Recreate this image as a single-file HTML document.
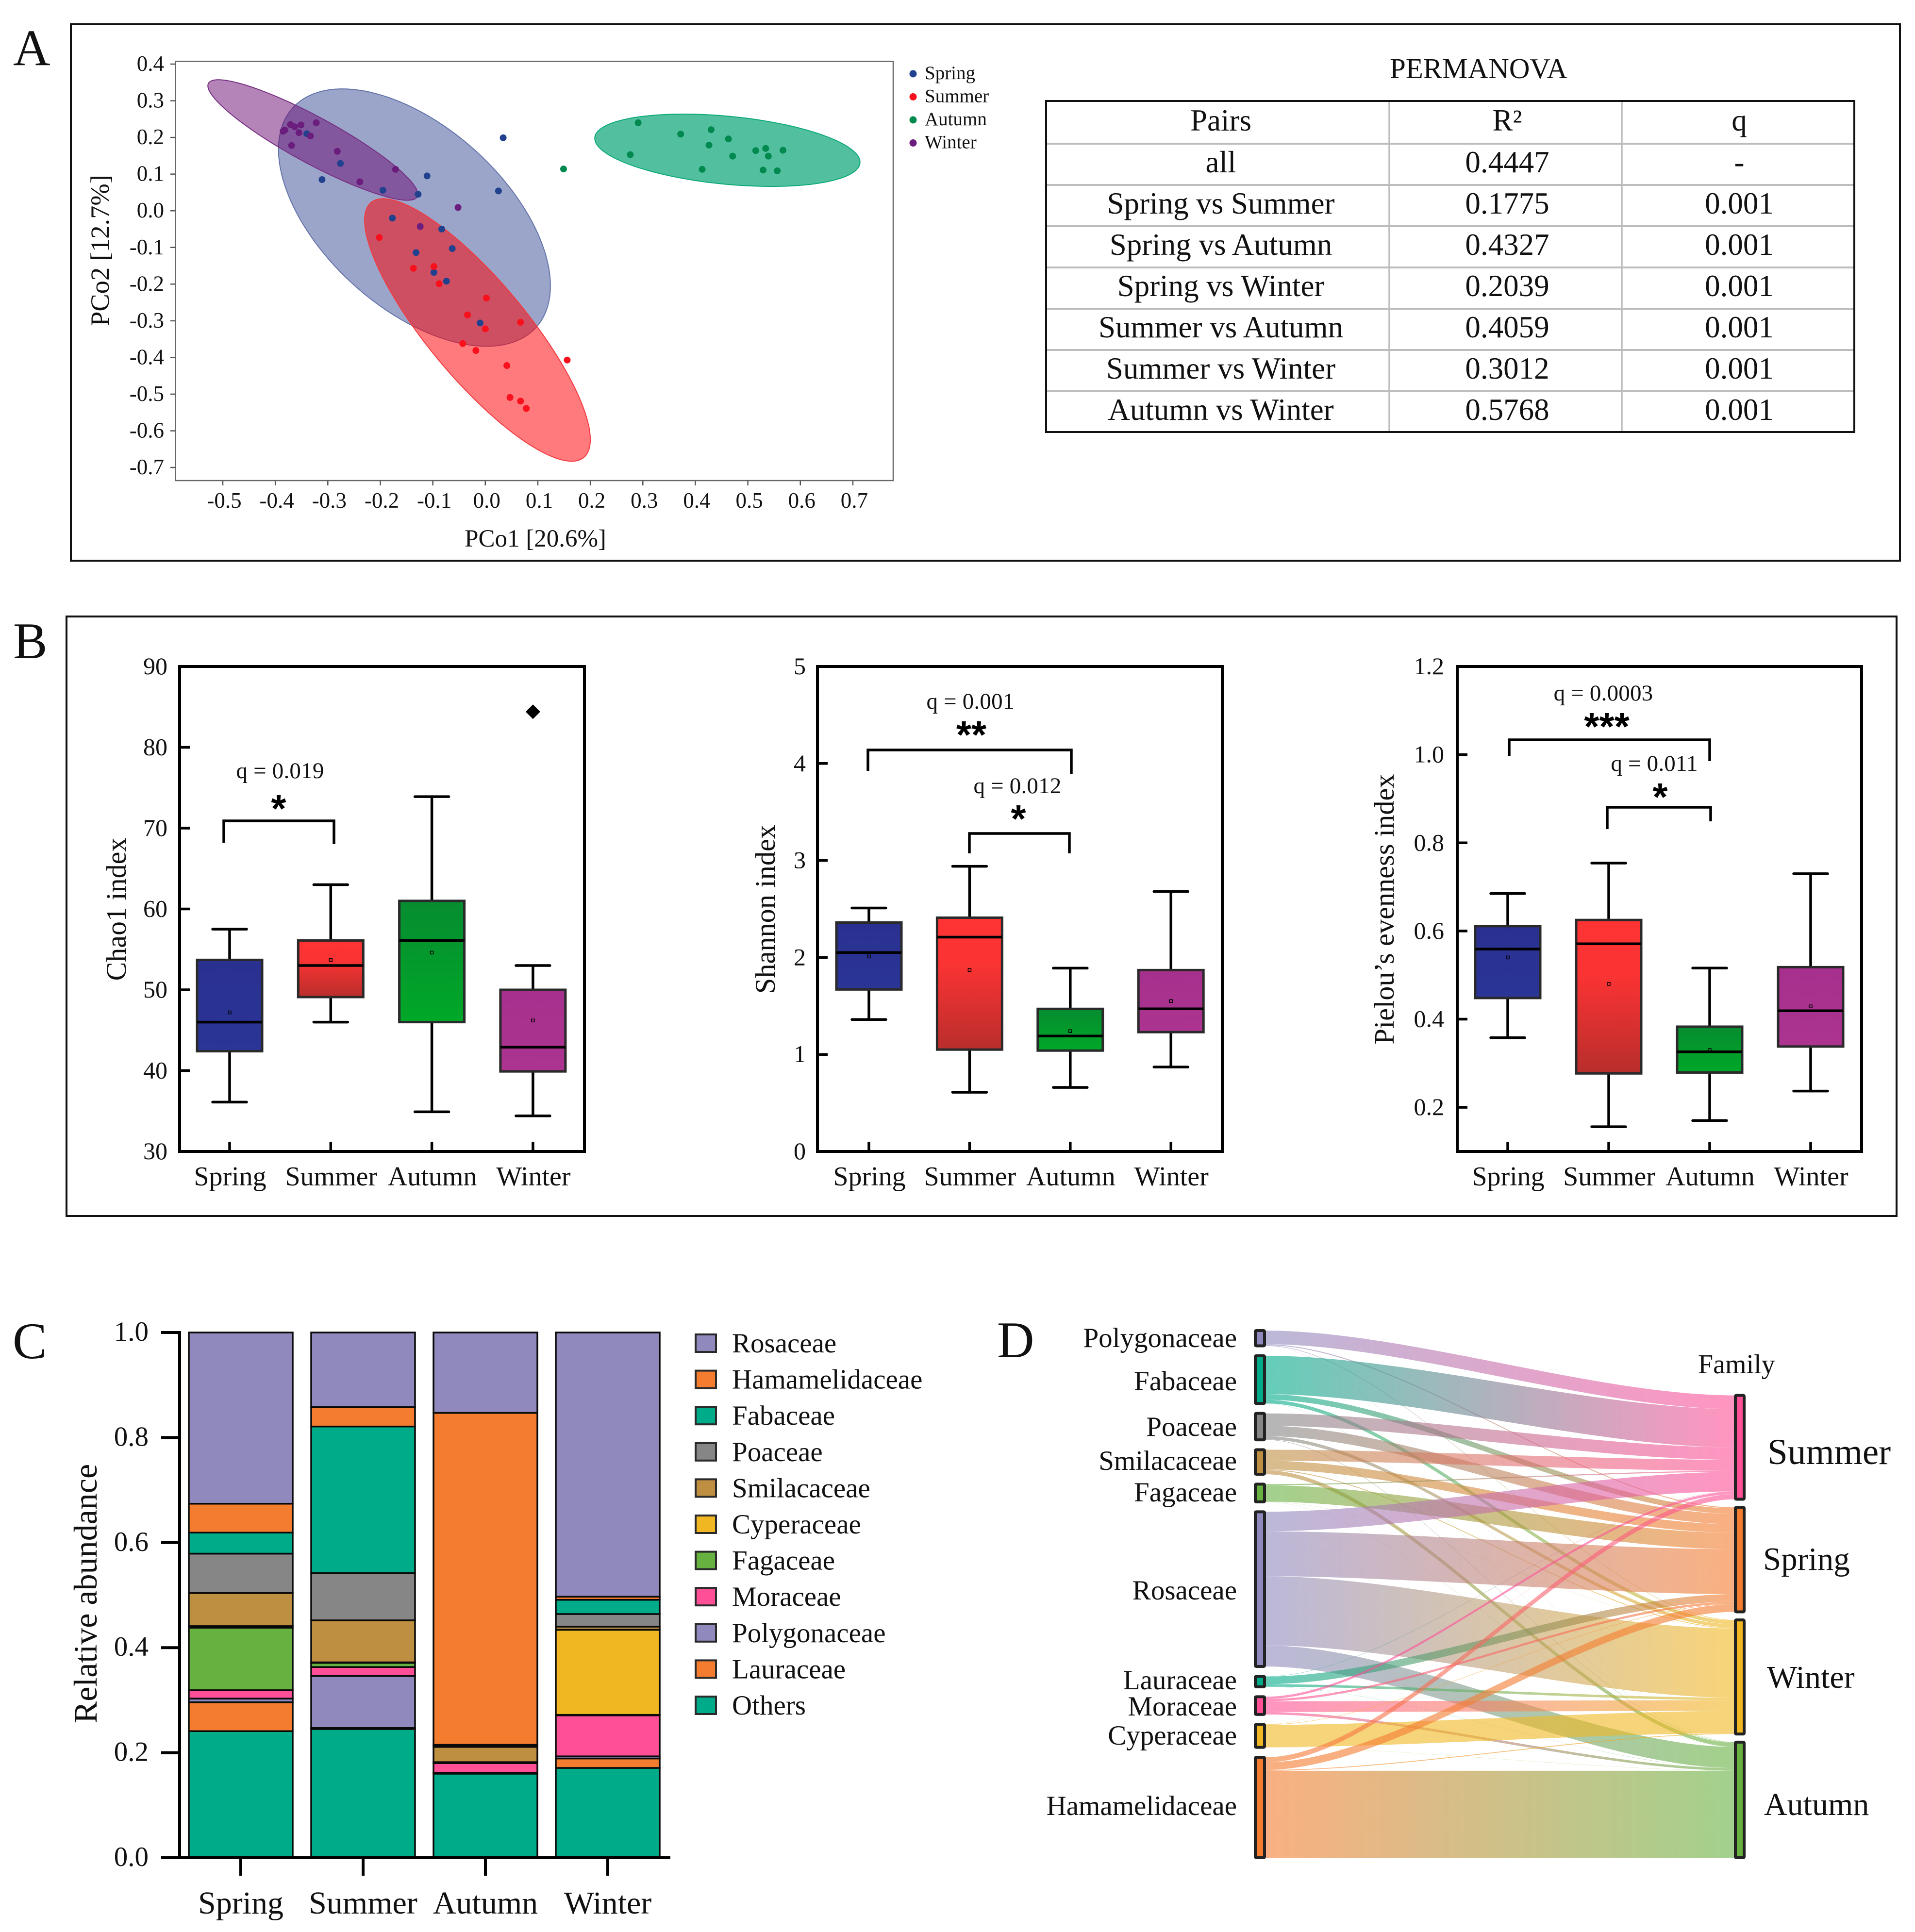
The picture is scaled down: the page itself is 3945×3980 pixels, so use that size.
<!DOCTYPE html>
<html lang="en">
<head>
<meta charset="utf-8">
<title>Seasonal community composition figure</title>
<style>
html,body{margin:0;padding:0;background:#fff;}
svg{display:block;}
text{font-family:"Liberation Serif","DejaVu Serif",serif;fill:#111;}
.star{font-family:"Liberation Sans","DejaVu Sans",sans-serif;font-weight:bold;fill:#000;}
</style>
</head>
<body>
<svg id="fig" xmlns="http://www.w3.org/2000/svg" width="3945" height="3980" viewBox="0 0 3945 3980">
<defs id="defs">
<linearGradient id="gSpring" x1="0" y1="0" x2="0" y2="1"><stop offset="0" stop-color="#2a3090"/><stop offset="1" stop-color="#2a3596"/></linearGradient>
<linearGradient id="gSummer" x1="0" y1="0" x2="0" y2="1"><stop offset="0" stop-color="#ff3333"/><stop offset="0.35" stop-color="#fb3333"/><stop offset="1" stop-color="#b82e2c"/></linearGradient>
<linearGradient id="gAutumn" x1="0" y1="0" x2="0" y2="1"><stop offset="0" stop-color="#068c30"/><stop offset="1" stop-color="#00a828"/></linearGradient>
<linearGradient id="gWinter" x1="0" y1="0" x2="0" y2="1"><stop offset="0" stop-color="#a6308d"/><stop offset="1" stop-color="#ac3490"/></linearGradient>
</defs>

<rect x="0" y="0" width="3945" height="3980" fill="#fff"/>

<!-- Panel letters -->
<text x="27" y="134" font-size="106">A</text>
<text x="27" y="1356" font-size="106">B</text>
<text x="26" y="2798" font-size="106">C</text>
<text x="2054" y="2796" font-size="106">D</text>

<!-- Panel frames -->
<rect x="146" y="50" width="3768" height="1105" fill="none" stroke="#111" stroke-width="4"/>
<rect x="137" y="1270" width="3770" height="1235" fill="none" stroke="#111" stroke-width="4"/>

<g id="panelA"></g>

<text x="1103" y="1126" font-size="51" text-anchor="middle">PCo1 [20.6%]</text>
<text transform="translate(224,516) rotate(-90)" font-size="54.5" text-anchor="middle">PCo2 [12.7%]</text>

<g id="tableA">
<text x="3046" y="161" font-size="59" text-anchor="middle">PERMANOVA</text>
</g>

<g id="panelB"></g>

<text transform="translate(259,1873) rotate(-90)" font-size="58" text-anchor="middle">Chao1 index</text>
<text transform="translate(1596,1873) rotate(-90)" font-size="58.3" text-anchor="middle">Shannon index</text>
<text transform="translate(2871,1873) rotate(-90)" font-size="58.3" text-anchor="middle">Pielou’s evenness index</text>

<!-- Significance annotations -->
<g fill="none" stroke="#000" stroke-width="5.5">
<path d="M461 1736V1691H688V1739"/>
<path d="M1788 1588V1545H2207V1595"/>
<path d="M1997 1758V1717H2203V1758"/>
<path d="M3109 1557V1524H3522V1568"/>
<path d="M3311 1708V1663H3524V1692"/>
</g>
<text x="577" y="1603" font-size="47" text-anchor="middle" letter-spacing="0.2">q = 0.019</text>
<text class="star" x="574" y="1693" font-size="80" text-anchor="middle">*</text>
<text x="1999" y="1460" font-size="47" text-anchor="middle" letter-spacing="0.2">q = 0.001</text>
<text class="star" x="2001" y="1541" font-size="80" text-anchor="middle">**</text>
<text x="2096" y="1634" font-size="47" text-anchor="middle" letter-spacing="0.2">q = 0.012</text>
<text class="star" x="2098" y="1714" font-size="80" text-anchor="middle">*</text>
<text x="3303" y="1443" font-size="47" text-anchor="middle" letter-spacing="0.2">q = 0.0003</text>
<text class="star" x="3310" y="1524" font-size="80" text-anchor="middle">***</text>
<text x="3408" y="1588" font-size="47" text-anchor="middle" letter-spacing="0.2">q = 0.011</text>
<text class="star" x="3420" y="1669" font-size="80" text-anchor="middle">*</text>

<g id="panelC"></g>
<text transform="translate(199,3283) rotate(-90)" font-size="68" text-anchor="middle">Relative abundance</text>

<g id="panelD"></g>

<!-- Sankey labels -->
<g font-size="57" text-anchor="end">
<text x="2548" y="2775">Polygonaceae</text>
<text x="2548" y="2864">Fabaceae</text>
<text x="2548" y="2958">Poaceae</text>
<text x="2548" y="3028">Smilacaceae</text>
<text x="2548" y="3093">Fagaceae</text>
<text x="2548" y="3295">Rosaceae</text>
<text x="2548" y="3480">Lauraceae</text>
<text x="2548" y="3534">Moraceae</text>
<text x="2548" y="3594">Cyperaceae</text>
<text x="2548" y="3739">Hamamelidaceae</text>
</g>
<text x="3498" y="2829" font-size="56">Family</text>
<text x="3641" y="3016" font-size="75">Summer</text>
<text x="3632" y="3234" font-size="67">Spring</text>
<text x="3640" y="3477" font-size="66">Winter</text>
<text x="3634" y="3739" font-size="66">Autumn</text>
</svg>

<script>
// ---------- shared ----------
const seasons = ['Spring', 'Summer', 'Autumn', 'Winter'];

// ---------- panel A data ----------
const pcoXTicks = [-0.5, -0.4, -0.3, -0.2, -0.1, 0.0, 0.1, 0.2, 0.3, 0.4, 0.5, 0.6, 0.7];
const pcoYTicks = [0.4, 0.3, 0.2, 0.1, 0.0, -0.1, -0.2, -0.3, -0.4, -0.5, -0.6, -0.7];
const springPc1 = [0.034, -0.111, 0.025, -0.276, -0.311, -0.195, -0.128, -0.340, -0.177, -0.083, -0.063, -0.132, -0.098, -0.074, -0.010];
const springPc2 = [0.199, 0.095, 0.054, 0.129, 0.085, 0.056, 0.045, 0.210, -0.020, -0.050, -0.103, -0.114, -0.168, -0.192, -0.306];
const summerPc1 = [-0.202, -0.137, -0.098, -0.088, 0.002, -0.034, 0.067, 0.000, -0.043, -0.018, 0.041, 0.156, 0.047, 0.067, 0.078];
const summerPc2 = [-0.073, -0.157, -0.152, -0.199, -0.238, -0.284, -0.304, -0.322, -0.362, -0.381, -0.422, -0.407, -0.509, -0.519, -0.539];
const autumnPc1 = [0.291, 0.372, 0.430, 0.463, 0.426, 0.276, 0.471, 0.515, 0.534, 0.539, 0.567, 0.413, 0.529, 0.556, 0.149];
const autumnPc2 = [0.240, 0.209, 0.221, 0.196, 0.179, 0.153, 0.149, 0.164, 0.170, 0.149, 0.165, 0.113, 0.111, 0.109, 0.114];
const winterPc1 = [-0.322, -0.351, -0.363, -0.371, -0.355, -0.333, -0.382, -0.385, -0.369, -0.282, -0.171, -0.239, -0.052, -0.124];
const winterPc2 = [0.240, 0.234, 0.229, 0.235, 0.213, 0.204, 0.220, 0.217, 0.178, 0.162, 0.113, 0.079, 0.009, -0.043];
// confidence ellipses, in data units: Spring, Summer, Autumn, Winter
const ellipseCenterX = [-0.135, -0.015, 0.461, -0.3285];
const ellipseCenterY = [-0.0186, -0.325, 0.165, 0.193];
const ellipseExtentX = [0.259, 0.215, 0.2526, 0.2];
const ellipseExtentY = [0.351, 0.358, 0.0986, 0.1643];
const ellipseCorrelation = [-0.53, -0.835, -0.33, -0.9];

// ---------- table data ----------
const tablePairs = ['all', 'Spring vs Summer', 'Spring vs Autumn', 'Spring vs Winter', 'Summer vs Autumn', 'Summer vs Winter', 'Autumn vs Winter'];
const tableR2 = ['0.4447', '0.1775', '0.4327', '0.2039', '0.4059', '0.3012', '0.5768'];
const tableQ = ['-', '0.001', '0.001', '0.001', '0.001', '0.001', '0.001'];

// ---------- panel B data ----------
const chaoTicks = [30, 40, 50, 60, 70, 80, 90];
const chaoLow = [36.1, 46, 34.9, 34.4];
const chaoQ1 = [42.4, 49.1, 46, 39.9];
const chaoMedian = [46, 53, 56.1, 42.9];
const chaoQ3 = [53.7, 56.1, 61, 50];
const chaoHigh = [57.5, 63, 73.9, 53];
const chaoMean = [47.2, 53.7, 54.6, 46.2];
const chaoOutlier = [null, null, null, 84.4];

const shannonTicks = [0, 1, 2, 3, 4, 5];
const shannonLow = [1.36, 0.61, 0.66, 0.87];
const shannonQ1 = [1.67, 1.05, 1.04, 1.23];
const shannonMedian = [2.05, 2.21, 1.19, 1.47];
const shannonQ3 = [2.36, 2.41, 1.47, 1.87];
const shannonHigh = [2.51, 2.94, 1.89, 2.68];
const shannonMean = [2.01, 1.87, 1.24, 1.55];

const pielouTicks = ['0.2', '0.4', '0.6', '0.8', '1.0', '1.2'];
const pielouLow = [0.358, 0.156, 0.17, 0.237];
const pielouQ1 = [0.448, 0.277, 0.279, 0.338];
const pielouMedian = [0.559, 0.571, 0.326, 0.419];
const pielouQ3 = [0.611, 0.625, 0.383, 0.518];
const pielouHigh = [0.685, 0.754, 0.516, 0.73];
const pielouMean = [0.54, 0.48, 0.33, 0.429];
const outlierNone = [null, null, null, null];

// ---------- panel C / D data ----------
const families = ['Rosaceae', 'Hamamelidaceae', 'Fabaceae', 'Poaceae', 'Smilacaceae', 'Cyperaceae', 'Fagaceae', 'Moraceae', 'Polygonaceae', 'Lauraceae', 'Others'];
const familyColors = ['#9089bd', '#f47c2f', '#00ab8a', '#868686', '#bf8f41', '#f1b722', '#67b141', '#fe4f97', '#9089bd', '#f47c2f', '#00ab8a'];
const springShare = [0.326, 0.055, 0.040, 0.075, 0.063, 0.003, 0.119, 0.016, 0.007, 0.055, 0.241];
const summerShare = [0.142, 0.037, 0.279, 0.090, 0.080, 0.001, 0.008, 0.017, 0.099, 0.002, 0.245];
const autumnShare = [0.153, 0.632, 0.001, 0.003, 0.029, 0.001, 0.001, 0.018, 0.001, 0.001, 0.160];
const winterShare = [0.503, 0.006, 0.027, 0.024, 0.006, 0.162, 0.001, 0.078, 0.004, 0.018, 0.171];
const abundanceTicks = ['0.0', '0.2', '0.4', '0.6', '0.8', '1.0'];
const sankeyFamilies = ['Polygonaceae', 'Fabaceae', 'Poaceae', 'Smilacaceae', 'Fagaceae', 'Rosaceae', 'Lauraceae', 'Moraceae', 'Cyperaceae', 'Hamamelidaceae'];
const sankeySources = ['#9089bd', '#00ab8a', '#868686', '#bf8f41', '#67b141', '#9089bd', '#00ab8a', '#fe4f97', '#f1b722', '#f47c2f'];
const sankeySeasons = ['Summer', 'Spring', 'Winter', 'Autumn'];
const sankeySeasonColors = ['#fe4f97', '#f47c2f', '#f1b722', '#67b141'];

// ---------- helpers ----------
const NS = 'http://www.w3.org/2000/svg';
function mk(tag, parent, attrs) {
  const n = document.createElementNS(NS, tag);
  for (const k in attrs) n.setAttribute(k, attrs[k]);
  parent.appendChild(n);
  return n;
}
function txt(parent, x, y, s, size, anchor) {
  const n = mk('text', parent, {x: x, y: y, 'font-size': size, 'text-anchor': anchor});
  n.textContent = s;
  return n;
}
const slug = s => String(s).toLowerCase().replace(/[^a-z0-9]+/g, '-');

// ---------- panel A ----------
(function () {
  const g = document.getElementById('panelA');
  const px = v => 459 + (v + 0.5) * 1081.6;
  const py = v => 132 + (0.4 - v) * 755.5;
  const frame = mk('rect', g, {x: 361.5, y: 126.5, width: 1478.5, height: 863.5, fill: 'none', stroke: '#666', 'stroke-width': 2.5});
  
  
  pcoXTicks.forEach(v => {
    const t = mk('line', g, {x1: px(v), x2: px(v), y1: 990, y2: 1000, stroke: '#555', 'stroke-width': 2.5});
    
    
    const l = txt(g, px(v) + 3, 1046, v.toFixed(1), 45, 'middle');
    
    
  });
  pcoYTicks.forEach(v => {
    const t = mk('line', g, {x1: 351, x2: 361.5, y1: py(v), y2: py(v), stroke: '#555', 'stroke-width': 2.5});
    
    
    const l = txt(g, 338, py(v) + 14, v.toFixed(1), 45, 'end');
    
    
  });
  const fills = ['rgba(53,75,147,0.5)', 'rgba(255,0,3,0.52)', 'rgba(8,165,117,0.7)', 'rgba(105,9,113,0.5)'];
  const strokes = ['#6473aa', '#f23a40', '#0aa878', '#773083'];
  seasons.forEach((s, i) => {
    let d = '';
    const r = ellipseCorrelation[i];
    for (let k = 0; k <= 120; k++) {
      const t = k / 120 * 2 * Math.PI;
      const X = ellipseCenterX[i] + ellipseExtentX[i] * Math.cos(t);
      const Y = ellipseCenterY[i] + ellipseExtentY[i] * (r * Math.cos(t) + Math.sqrt(1 - r * r) * Math.sin(t));
      d += (k ? 'L' : 'M') + px(X).toFixed(1) + ' ' + py(Y).toFixed(1);
    }
    const e = mk('path', g, {d: d + 'Z', fill: fills[i], stroke: strokes[i], 'stroke-width': 2});
    
    
  });
  const xs = [springPc1, summerPc1, autumnPc1, winterPc1];
  const ys = [springPc2, summerPc2, autumnPc2, winterPc2];
  const dots = ['#21418f', '#f8101c', '#00894f', '#6a1d7d'];
  seasons.forEach((s, i) => {
    xs[i].forEach((x, k) => {
      const c = mk('circle', g, {cx: px(x), cy: py(ys[i][k]), r: 7, fill: dots[i]});
      
      
    });
  });
  seasons.forEach((s, i) => {
    const ly = 152 + i * 47.5;
    const c = mk('circle', g, {cx: 1881, cy: ly, r: 7.5, fill: dots[i]});
    
    
    const l = txt(g, 1905, ly + 11, s, 39, 'start');
    
    
  });
})();

// ---------- table ----------
(function () {
  const g = document.getElementById('tableA');
  const L = 2155, R = 3820, T = 208, B = 890;
  for (let i = 0; i < 7; i++) {
    const y = 296 + 85 * i;
    const n = mk('line', g, {x1: L, x2: R, y1: y, y2: y, stroke: '#bdbdbd', 'stroke-width': 4});
    
    
  }
  [2862, 3341].forEach(x => {
    const n = mk('line', g, {x1: x, x2: x, y1: T, y2: B, stroke: '#bdbdbd', 'stroke-width': 3.5});
    
    
  });
  const box = mk('rect', g, {x: L, y: T, width: R - L, height: B - T, fill: 'none', stroke: '#111', 'stroke-width': 4});
  
  
  const h1 = txt(g, 2515, 269, 'Pairs', 63, 'middle');
  
  
  const h2 = txt(g, 3105, 269, 'R²', 63, 'middle');
  
  
  const h3 = txt(g, 3583, 269, 'q', 63, 'middle');
  
  
  tablePairs.forEach((p, i) => {
    const y = 355 + 85 * i;
    const a = txt(g, 2515, y, p, 63, 'middle');
    
    
    const b = txt(g, 3105, y, tableR2[i], 63, 'middle');
    
    
    const c = txt(g, 3583, y, tableQ[i], 63, 'middle');
    
    
  });
})();

// ---------- panel B ----------
function boxChart(name, L, R, labelX, x0, dx, yMin, yMax, ticks, low, q1, med, q3, high, mean, outlier) {
  const g = document.getElementById('panelB');
  const T = 1373, B = 2372;
  const y = v => B - (v - yMin) / (yMax - yMin) * (B - T);
  const x = i => x0 + i * dx;
  const fills = ['url(#gSpring)', 'url(#gSummer)', 'url(#gAutumn)', 'url(#gWinter)'];
  seasons.forEach((s, i) => {
    const whisker = mk('path', g, {
      d: 'M' + x(i) + ' ' + y(high[i]) + 'V' + y(low[i]) +
         'M' + (x(i) - 35) + ' ' + y(high[i]) + 'H' + (x(i) + 35) +
         'M' + (x(i) - 35) + ' ' + y(low[i]) + 'H' + (x(i) + 35),
      fill: 'none', stroke: '#000', 'stroke-width': 5.5, 'stroke-linecap': 'round'});
    
    
    const box = mk('rect', g, {x: x(i) - 67, y: y(q3[i]), width: 134, height: y(q1[i]) - y(q3[i]), fill: fills[i], stroke: '#2a2a2a', 'stroke-width': 5});
    
    
    const m = mk('line', g, {x1: x(i) - 67, x2: x(i) + 67, y1: y(med[i]), y2: y(med[i]), stroke: '#000', 'stroke-width': 5.5});
    
    
    const a = mk('rect', g, {x: x(i) - 3, y: y(mean[i]) - 3, width: 6, height: 6, fill: 'none', stroke: '#000', 'stroke-width': 1.5});
    
    
    if (outlier[i] !== null) {
      const cy = y(outlier[i]);
      const o = mk('path', g, {d: 'M' + x(i) + ' ' + (cy - 15) + 'l15 15l-15 15l-15 -15Z', fill: '#000'});
      
      
    }
    const tk = mk('line', g, {x1: x(i), x2: x(i), y1: B, y2: B - 20, stroke: '#000', 'stroke-width': 5.5});
    
    
    const l = txt(g, x(i) + 1, 2442, s, 56, 'middle');
    
    
  });
  ticks.forEach(v => {
    const tk = mk('line', g, {x1: L, x2: L + 21, y1: y(+v), y2: y(+v), stroke: '#000', 'stroke-width': 5.5});
    
    
    const l = txt(g, labelX, y(+v) + 16, v, 50, 'end');
    
    
  });
  const f = mk('rect', g, {x: L, y: T, width: R - L, height: B - T, fill: 'none', stroke: '#000', 'stroke-width': 6});
  
  
}
boxChart('chao1', 370, 1204, 345, 473, 208.3, 30, 90, chaoTicks, chaoLow, chaoQ1, chaoMedian, chaoQ3, chaoHigh, chaoMean, chaoOutlier);
boxChart('shannon', 1684, 2518, 1660, 1790, 207.4, 0, 5, shannonTicks, shannonLow, shannonQ1, shannonMedian, shannonQ3, shannonHigh, shannonMean, outlierNone);
boxChart('pielou', 3002, 3835, 2975, 3106, 208, 0.1, 1.2, pielouTicks, pielouLow, pielouQ1, pielouMedian, pielouQ3, pielouHigh, pielouMean, outlierNone);

// ---------- panel C ----------
(function () {
  const g = document.getElementById('panelC');
  const B = 3827, H = 1082;
  const y = v => B - v * H;
  const x = i => 496 + i * 252;
  const shares = [springShare, summerShare, autumnShare, winterShare];
  seasons.forEach((s, i) => {
    let cum = 0;
    for (let k = families.length - 1; k >= 0; k--) {
      const v = shares[i][k];
      const r = mk('rect', g, {x: x(i) - 107, y: y(cum + v), width: 214, height: v * H, fill: familyColors[k], stroke: '#0a0a0a', 'stroke-width': 3.5});
      
      
      cum += v;
    }
    const tk = mk('line', g, {x1: x(i), x2: x(i), y1: B, y2: B + 37, stroke: '#000', 'stroke-width': 6});
    
    
    const l = txt(g, x(i), 3942, s, 66, 'middle');
    
    
  });
  const ya = mk('line', g, {x1: 370, x2: 370, y1: y(1) - 3, y2: B + 3, stroke: '#000', 'stroke-width': 6});
  
  
  const xa = mk('line', g, {x1: 332, x2: 1381, y1: B, y2: B, stroke: '#000', 'stroke-width': 6});
  
  
  abundanceTicks.forEach(v => {
    const tk = mk('line', g, {x1: 332, x2: 370, y1: y(+v), y2: y(+v), stroke: '#000', 'stroke-width': 6});
    
    
    const l = txt(g, 306, y(+v) + 17, v, 57, 'end');
    
    
  });
  families.forEach((f, k) => {
    const cy = 2767 + k * 74.6;
    const r = mk('rect', g, {x: 1433, y: cy - 18, width: 42, height: 36, fill: familyColors[k], stroke: '#2a2a2a', 'stroke-width': 4});
    
    
    const l = txt(g, 1508, cy + 19, f, 57, 'start');
    
    
  });
})();

// ---------- panel D ----------
(function () {
  const g = document.getElementById('panelD');
  const defs = document.getElementById('defs');
  const seasonShare = {Spring: springShare, Summer: summerShare, Autumn: autumnShare, Winter: winterShare};
  const scale = 283.5;
  const X0 = 2605, X1 = 3575;
  const CX0 = X0 + (X1 - X0) * 0.3, CX1 = X1 - (X1 - X0) * 0.3;
  const value = (f, s) => seasonShare[s][families.indexOf(f)];
  const srcTotal = sankeyFamilies.map(f => sankeySeasons.reduce((a, s) => a + value(f, s), 0));
  const tgtTotal = sankeySeasons.map(s => sankeyFamilies.reduce((a, f) => a + value(f, s), 0));
  const bottom = 3827;
  const srcGap = 20.4;
  const tgtGap = 16.7;
  const srcTop = [];
  let c = bottom - srcTotal.reduce((a, b) => a + b, 0) * scale - srcGap * (srcTotal.length - 1);
  srcTotal.forEach((t, i) => { srcTop.push(c); c += t * scale + srcGap; });
  const tgtTop = [];
  c = bottom - tgtTotal.reduce((a, b) => a + b, 0) * scale - tgtGap * (tgtTotal.length - 1);
  tgtTotal.forEach((t, i) => { tgtTop.push(c); c += t * scale + tgtGap; });
  const tCur = tgtTop.slice();
  sankeyFamilies.forEach((f, i) => {
    let sCur = srcTop[i];
    sankeySeasons.forEach((s, j) => {
      const h = value(f, s) * scale;
      const id = 'flow' + i + '_' + j;
      const grad = mk('linearGradient', defs, {id: id, gradientUnits: 'userSpaceOnUse', x1: X0, y1: 0, x2: X1, y2: 0});
      mk('stop', grad, {offset: '0.02', 'stop-color': sankeySources[i]});
      mk('stop', grad, {offset: '0.98', 'stop-color': sankeySeasonColors[j]});
      const y0 = sCur, y1 = tCur[j];
      const d = 'M' + X0 + ' ' + y0 + 'C' + CX0 + ' ' + y0 + ' ' + CX1 + ' ' + y1 + ' ' + X1 + ' ' + y1 +
                'V' + (y1 + h) + 'C' + CX1 + ' ' + (y1 + h) + ' ' + CX0 + ' ' + (y0 + h) + ' ' + X0 + ' ' + (y0 + h) + 'Z';
      const p = mk('path', g, {d: d, fill: 'url(#' + id + ')', 'fill-opacity': 0.6});
      
      
      sCur += h;
      tCur[j] += h;
    });
  });
  sankeyFamilies.forEach((f, i) => {
    const r = mk('rect', g, {x: 2586, y: srcTop[i], width: 19, height: srcTotal[i] * scale, fill: sankeySources[i], stroke: '#222', 'stroke-width': 6, rx: 2});
    
    
  });
  sankeySeasons.forEach((s, j) => {
    const r = mk('rect', g, {x: 3575, y: tgtTop[j], width: 18, height: tgtTotal[j] * scale, fill: sankeySeasonColors[j], stroke: '#222', 'stroke-width': 6, rx: 2});
    
    
  });
})();
</script>
</body>
</html>
